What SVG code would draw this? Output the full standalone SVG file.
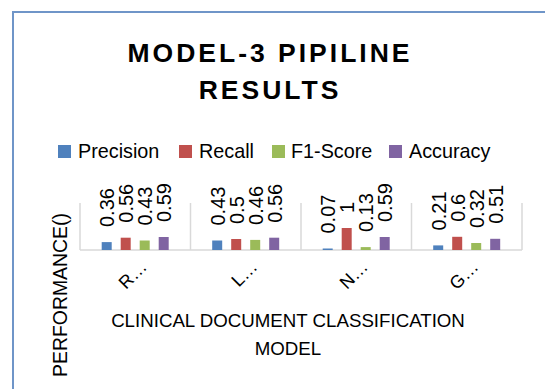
<svg xmlns="http://www.w3.org/2000/svg" width="545" height="389" viewBox="0 0 545 389">
<style>
.t{font-family:"Liberation Sans",Arial,sans-serif;fill:#000}
.title{font-size:26.5px;font-weight:bold;letter-spacing:3px}
.leg{font-size:19.8px}
.dl{font-size:20px}
.cat{font-size:18px}
.ax{font-size:18.7px}
.grid{stroke:#d9d9d9;stroke-width:1.5;fill:none}
.p{fill:#4f81bd}.r{fill:#c0504d}.f{fill:#9bbb59}.a{fill:#8064a2}
</style>
<rect x="0" y="0" width="545" height="389" fill="#ffffff"/>
<rect x="13" y="12" width="540" height="390" fill="#ffffff" stroke="#6f95c8" stroke-width="2"/>
<g id="title">
<text class="t title" x="270" y="62" text-anchor="middle">MODEL-3 PIPILINE</text>
<text class="t title" x="270" y="99" text-anchor="middle">RESULTS</text>
</g>
<g id="legend">
<rect class="p" x="58" y="145" width="13" height="13"/><text class="t leg" x="78" y="158">Precision</text>
<rect class="r" x="179" y="145" width="13" height="13"/><text class="t leg" x="199" y="158">Recall</text>
<rect class="f" x="272" y="145" width="13" height="13"/><text class="t leg" x="291" y="158">F1-Score</text>
<rect class="a" x="389" y="145" width="13" height="13"/><text class="t leg" x="409" y="158">Accuracy</text>
</g>
<g id="axes">
<path class="grid" d="M80 203V250M190.5 203V250M301 203V250M411.5 203V250M522 203V250M80 250H522"/>
</g>
<g id="cat-R">
<rect class="p" x="101.7" y="242.1" width="10" height="7.9"/>
<rect class="r" x="120.7" y="237.7" width="10" height="12.3"/>
<rect class="f" x="139.7" y="240.5" width="10" height="9.5"/>
<rect class="a" x="158.7" y="237.0" width="10" height="13"/>
<text class="t dl" transform="translate(114,227) rotate(-90)">0.36</text>
<text class="t dl" transform="translate(133,222.7) rotate(-90)">0.56</text>
<text class="t dl" transform="translate(152,225.5) rotate(-90)">0.43</text>
<text class="t dl" transform="translate(171,222) rotate(-90)">0.59</text>
<text class="t cat" text-anchor="end" transform="translate(148,268) rotate(-45)">R…</text>
</g>
<g id="cat-L">
<rect class="p" x="212.2" y="240.5" width="10" height="9.5"/>
<rect class="r" x="231.2" y="239" width="10" height="11"/>
<rect class="f" x="250.2" y="239.9" width="10" height="10.1"/>
<rect class="a" x="269.2" y="237.7" width="10" height="12.3"/>
<text class="t dl" transform="translate(224.5,225.5) rotate(-90)">0.43</text>
<text class="t dl" transform="translate(243.5,224) rotate(-90)">0.5</text>
<text class="t dl" transform="translate(262.5,224.9) rotate(-90)">0.46</text>
<text class="t dl" transform="translate(281.5,222.7) rotate(-90)">0.56</text>
<text class="t cat" text-anchor="end" transform="translate(258.5,268) rotate(-45)">L…</text>
</g>
<g id="cat-N">
<rect class="p" x="322.7" y="248.5" width="10" height="1.5"/>
<rect class="r" x="341.7" y="228" width="10" height="22"/>
<rect class="f" x="360.7" y="247.1" width="10" height="2.9"/>
<rect class="a" x="379.7" y="237" width="10" height="13"/>
<text class="t dl" transform="translate(335,233.5) rotate(-90)">0.07</text>
<text class="t dl" transform="translate(354,213) rotate(-90)">1</text>
<text class="t dl" transform="translate(373,232.1) rotate(-90)">0.13</text>
<text class="t dl" transform="translate(392,222) rotate(-90)">0.59</text>
<text class="t cat" text-anchor="end" transform="translate(369,268) rotate(-45)">N…</text>
</g>
<g id="cat-G">
<rect class="p" x="433.2" y="245.4" width="10" height="4.6"/>
<rect class="r" x="452.2" y="236.8" width="10" height="13.2"/>
<rect class="f" x="471.2" y="243" width="10" height="7"/>
<rect class="a" x="490.2" y="238.8" width="10" height="11.2"/>
<text class="t dl" transform="translate(445.5,230.4) rotate(-90)">0.21</text>
<text class="t dl" transform="translate(464.5,221.8) rotate(-90)">0.6</text>
<text class="t dl" transform="translate(483.5,228) rotate(-90)">0.32</text>
<text class="t dl" transform="translate(502.5,223.8) rotate(-90)">0.51</text>
<text class="t cat" text-anchor="end" transform="translate(479.5,268) rotate(-45)">G…</text>
</g>
<g id="axis-titles">
<text class="t ax" x="288" y="327" text-anchor="middle">CLINICAL DOCUMENT CLASSIFICATION</text>
<text class="t ax" x="288" y="355" text-anchor="middle">MODEL</text>
<text class="t" style="font-size:19.4px" text-anchor="middle" transform="translate(67,295) rotate(-90)">PERFORMANCE()</text>
</g>
</svg>
